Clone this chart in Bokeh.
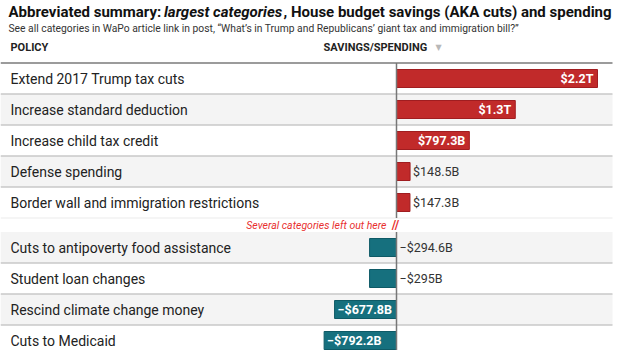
from bokeh.plotting import figure
from bokeh.models import Range1d, ColumnDataSource
from bokeh.core.properties import value
from bokeh.embed import file_html
from bokeh.resources import INLINE

# ---- data ----
policies = [
    "Extend 2017 Trump tax cuts",
    "Increase standard deduction",
    "Increase child tax credit",
    "Defense spending",
    "Border wall and immigration restrictions",
    "Cuts to antipoverty food assistance",
    "Student loan changes",
    "Rescind climate change money",
    "Cuts to Medicaid",
]
values_b = [2200, 1300, 797.3, 148.5, 147.3, -294.6, -295, -677.8, -792.2]
value_labels = ["$2.2T", "$1.3T", "$797.3B", "$148.5B", "$147.3B",
                "\u2212$294.6B", "\u2212$295B", "\u2212$677.8B", "\u2212$792.2B"]

title_parts = ["Abbreviated summary: ", "largest categories",
               ", House budget savings (AKA cuts) and spending"]
subtitle = ("See all categories in WaPo article link in post, \u201cWhat\u2019s in Trump "
            "and Republicans\u2019 giant tax and immigration bill?\u201d")
col_policy = "POLICY"
col_value = "SAVINGS/SPENDING"
gap_note = "Several categories left out here"

# ---- layout ----
W, H = 624, 350
ZERO_PX = 396.0
PX_PER_B = 201.0 / 2200.0
TABLE_RIGHT_PX = 612.0
ROW_H = 31.0
TOP = 62.5
GAP = 14.0
N_TOP = 5
FONT = "Roboto"


def bx(px):
    """screen x (px from left) -> data x (billions)"""
    return (px - ZERO_PX) / PX_PER_B


p = figure(width=W, height=H, output_backend="svg", toolbar_location=None,
           x_range=Range1d(bx(0), bx(W)), y_range=Range1d(H, 0),
           min_border=0, outline_line_color=None, background_fill_color="white")
p.axis.visible = False
p.grid.visible = False

row_tops = []
for i in range(len(policies)):
    t = TOP + i * ROW_H + (GAP if i >= N_TOP else 0)
    row_tops.append(t)
row_mid = [t + ROW_H / 2 for t in row_tops]
row_bot = [t + ROW_H for t in row_tops]

# row backgrounds
shade = [i for i in range(len(policies)) if i % 2 == 1]
p.quad(left=[bx(0)] * len(shade), right=[bx(TABLE_RIGHT_PX)] * len(shade),
       top=[row_tops[i] for i in shade], bottom=[row_bot[i] for i in shade],
       fill_color="#f4f4f4", line_color=None)

# separators
sep_y = [row_bot[i] for i in range(len(policies) - 1) if i != N_TOP - 1]
p.segment(x0=[bx(0)] * len(sep_y), x1=[bx(TABLE_RIGHT_PX)] * len(sep_y),
          y0=sep_y, y1=sep_y, line_color="#c9c9c9", line_width=1.5)
p.segment(x0=[bx(0)], x1=[bx(TABLE_RIGHT_PX)], y0=[row_bot[N_TOP - 1]],
          y1=[row_bot[N_TOP - 1]], line_color="#ececec", line_width=1.2)
p.segment(x0=[bx(0)], x1=[bx(TABLE_RIGHT_PX)], y0=[TOP], y1=[TOP],
          line_color="#7a7a7a", line_width=1.5)

# bars
pos_col = "#c12a2a"
neg_col = "#16707e"
src = ColumnDataSource(dict(
    y=row_mid,
    left=[min(0, v) for v in values_b],
    right=[max(0, v) for v in values_b],
    fill=[pos_col if v > 0 else neg_col for v in values_b],
    line=["#a01d20" if v > 0 else "#0e5a66" for v in values_b],
))
p.hbar(y="y", left="left", right="right", height=18, fill_color="fill",
       line_color="line", line_width=1, source=src)

# zero axis line (broken in gap)
p.segment(x0=[0, 0], x1=[0, 0], y0=[TOP, row_tops[N_TOP]],
          y1=[row_bot[N_TOP - 1], H], line_color="#777777", line_width=1.5)

# row labels
p.text(x=[bx(10)] * len(policies), y=row_mid, text=policies,
       text_font=value(FONT), text_font_size="14px", text_color="#222222",
       text_baseline="middle", text_align="left")

# value labels
INSIDE_MIN = 400
lx, ly, lt, la, lo, lc, lw = [], [], [], [], [], [], []
for v, lab, y in zip(values_b, value_labels, row_mid):
    if abs(v) >= INSIDE_MIN:
        lx.append(v)
        la.append("right" if v > 0 else "left")
        lo.append(-4 if v > 0 else 3)
        lc.append("white")
        lw.append("bold")
    else:
        lx.append(v if v > 0 else 0)
        la.append("left")
        lo.append(3)
        lc.append("#333333")
        lw.append("normal")
    ly.append(y)
    lt.append(lab)
vsrc = ColumnDataSource(dict(x=lx, y=ly, text=lt, align=la, off=lo, color=lc, fs=lw))
p.text(x="x", y="y", text="text", text_align="align", x_offset="off",
       text_color="color", text_font_style="fs", text_font=value(FONT),
       text_font_size="12.5px", text_baseline="middle", source=vsrc)

# gap annotation
gap_mid = row_bot[N_TOP - 1] + GAP / 2
p.text(x=[0], y=[gap_mid], text=[gap_note], x_offset=-10, text_align="right",
       text_baseline="middle", text_font=value(FONT), text_font_style="italic",
       text_font_size="10.5px", text_color="#e8302f")
p.text(x=[0], y=[gap_mid], text=["//"], x_offset=-1, text_align="center",
       text_baseline="middle", text_font=value(FONT), text_font_style="bold",
       text_font_size="12px", text_color="#e8302f")

# title
title_x = [8, 163.5, 283]
title_styles = ["bold", "bold italic", "bold"]
for tx, part, st in zip(title_x, title_parts, title_styles):
    p.text(x=[bx(tx)], y=[11.5], text=[part], text_font=value(FONT),
           text_font_style=st, text_font_size="15px", text_color="#111111",
           text_baseline="middle", text_align="left")
p.text(x=[bx(8)], y=[27.5], text=[subtitle], text_font=value(FONT),
       text_font_size="10.3px", text_color="#333333", text_baseline="middle")

# column headers
p.text(x=[bx(10)], y=[47], text=[col_policy], text_font=value(FONT),
       text_font_style="bold", text_font_size="11px", text_color="#222222",
       text_baseline="middle")
p.text(x=[bx(323)], y=[47], text=[col_value], text_font=value(FONT),
       text_font_style="bold", text_font_size="11px", text_color="#222222",
       text_baseline="middle")
p.text(x=[bx(435)], y=[47], text=["\u25bc"], text_font=value("DejaVu Sans"),
       text_font_size="8px", text_color="#b8b8b8", text_baseline="middle")

open("out.html", "w").write(file_html(p, INLINE))
